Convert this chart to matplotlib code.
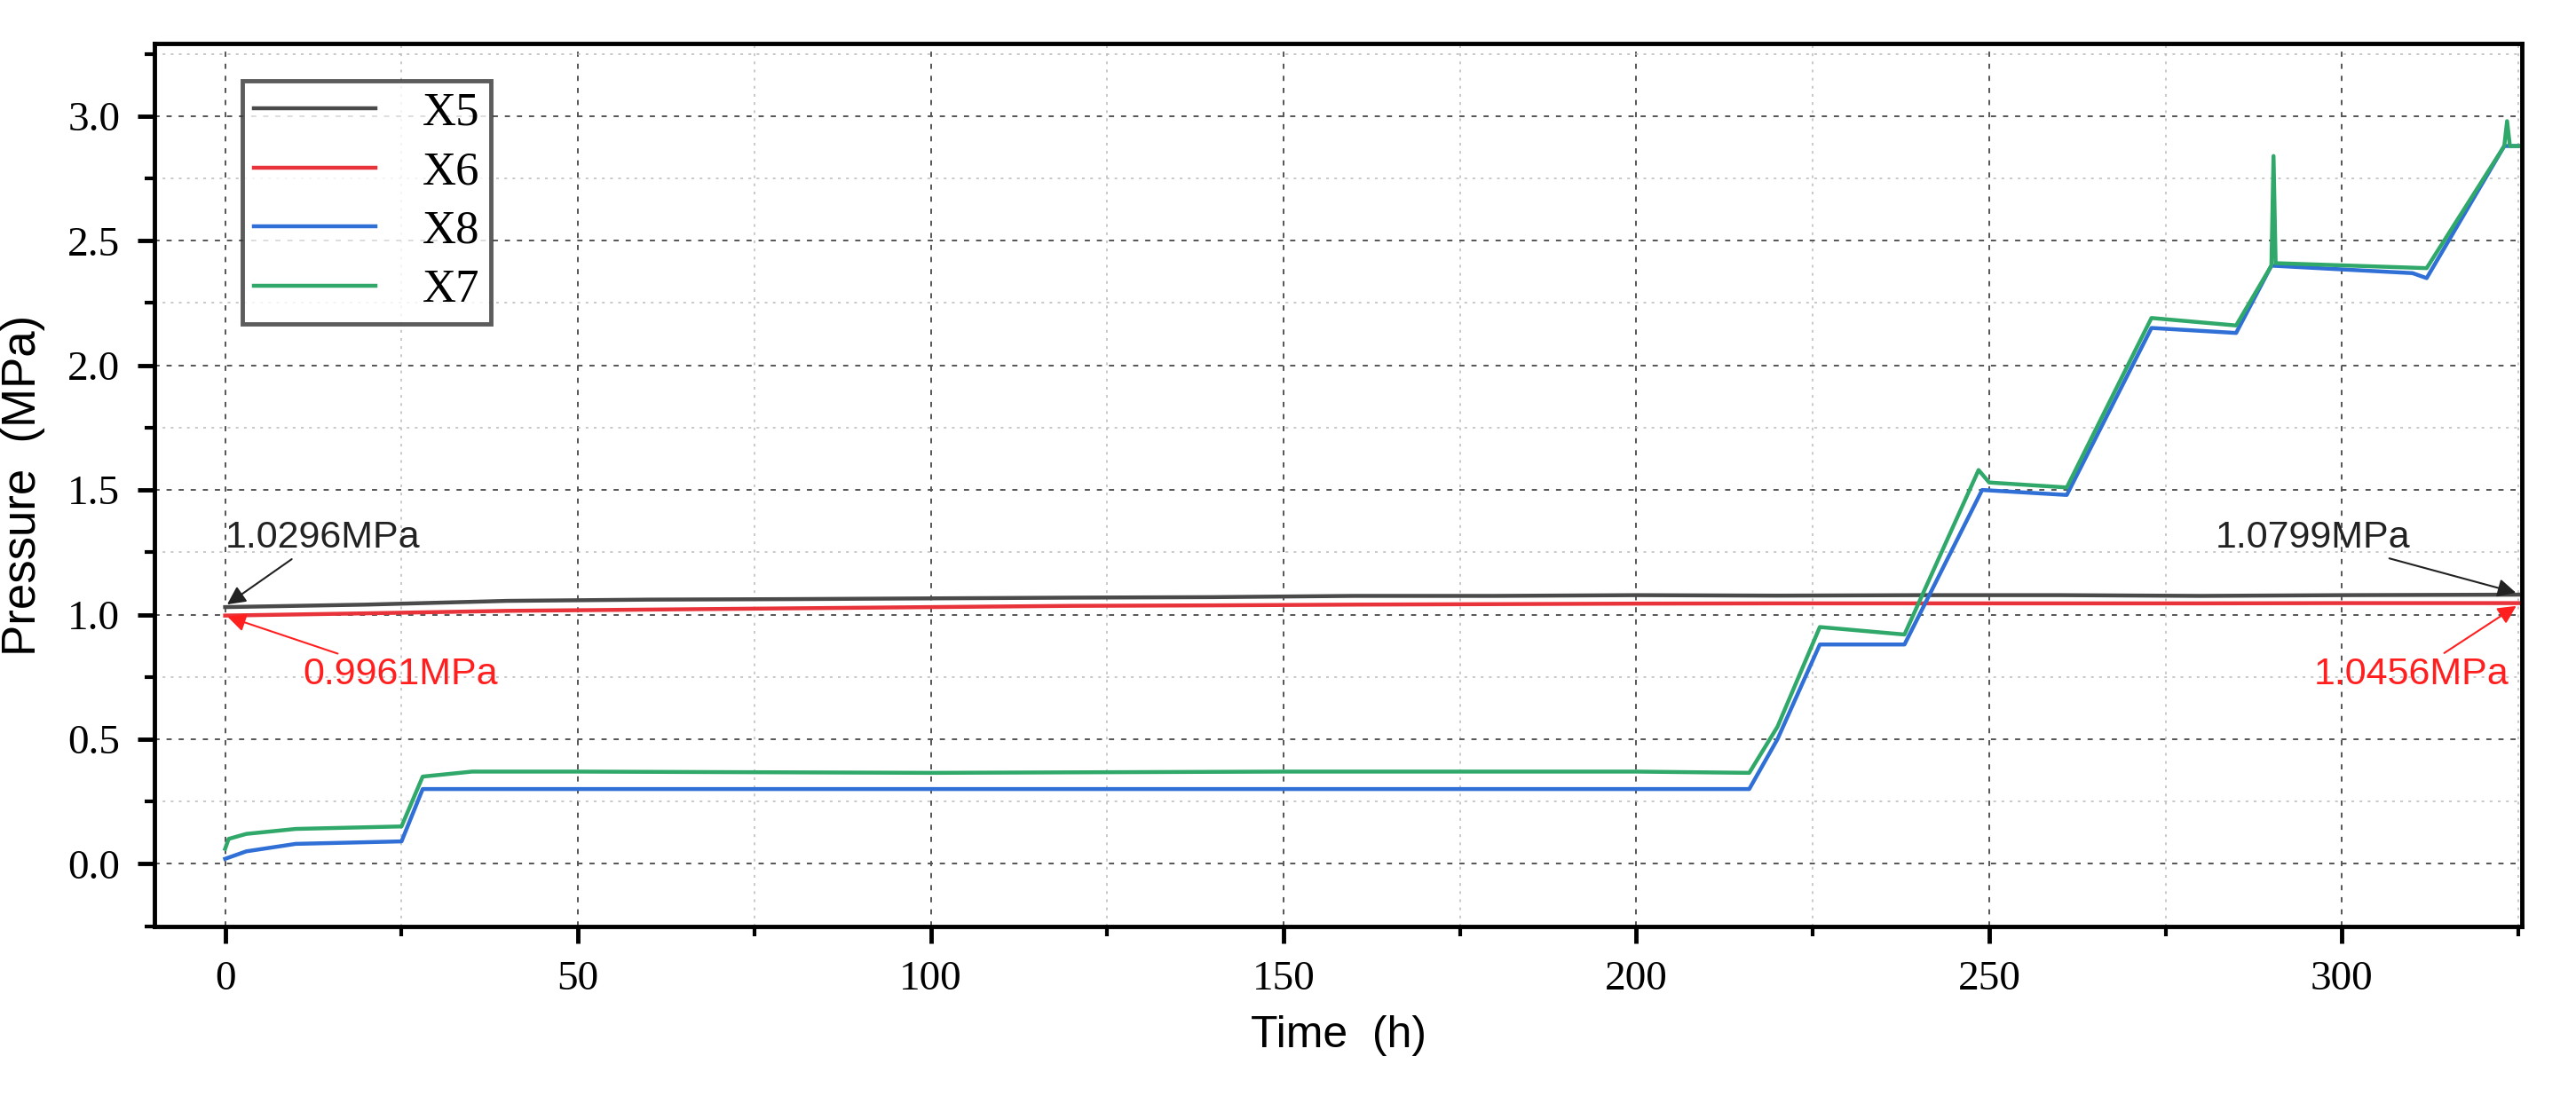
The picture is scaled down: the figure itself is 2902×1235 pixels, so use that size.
import matplotlib.pyplot as plt
from matplotlib.ticker import MultipleLocator

plt.rcParams['font.family'] = 'Liberation Serif'

# time (h) / pressure (MPa)
t_x5 = [0, 20, 40, 60, 80, 100, 120, 140, 160, 180, 200, 220, 240, 260, 280, 300, 325]
p_x5 = [1.03, 1.04, 1.055, 1.06, 1.062, 1.065, 1.068, 1.07, 1.075, 1.075, 1.078, 1.076, 1.078, 1.078, 1.075, 1.078, 1.08]
t_x6 = [0, 20, 40, 60, 80, 100, 120, 140, 160, 180, 200, 220, 240, 260, 280, 300, 325]
p_x6 = [0.996, 1.005, 1.015, 1.02, 1.025, 1.03, 1.035, 1.037, 1.04, 1.042, 1.044, 1.045, 1.045, 1.045, 1.045, 1.046, 1.046]
t_x8 = [0, 3, 10, 25, 28, 50, 100, 150, 200, 216, 220, 226, 238, 249, 261, 273, 285, 290, 310, 312, 323, 325]
p_x8 = [0.02, 0.05, 0.08, 0.09, 0.30, 0.30, 0.30, 0.30, 0.30, 0.30, 0.50, 0.88, 0.88, 1.50, 1.48, 2.15, 2.13, 2.40, 2.37, 2.35, 2.88, 2.88]
t_x7 = [0, 0.5, 3, 10, 25, 28, 35, 50, 100, 150, 200, 216, 220, 226, 238, 248.5, 250, 261, 273, 285, 290, 290.3, 290.6, 312, 323, 323.4, 323.8, 325]
p_x7 = [0.06, 0.10, 0.12, 0.14, 0.15, 0.35, 0.37, 0.37, 0.365, 0.37, 0.37, 0.365, 0.55, 0.95, 0.92, 1.58, 1.53, 1.51, 2.19, 2.16, 2.40, 2.84, 2.41, 2.39, 2.88, 2.98, 2.88, 2.88]

fig = plt.figure(figsize=(29.02, 12.35), dpi=100)
ax = fig.add_axes([0.06, 0.155, 0.919, 0.805])

ax.plot(t_x5, p_x5, color='#4a4a4a', lw=3.2, label='X5')
ax.plot(t_x6, p_x6, color='#e8333a', lw=3.2, label='X6')
ax.plot(t_x8, p_x8, color='#2f6fd6', lw=3.2, label='X8')
ax.plot(t_x7, p_x7, color='#2fa86a', lw=3.2, label='X7')

ax.set_xlim(-10, 325.5)
ax.set_ylim(-0.25, 3.29)
ax.xaxis.set_major_locator(MultipleLocator(50))
ax.xaxis.set_minor_locator(MultipleLocator(25))
ax.yaxis.set_major_locator(MultipleLocator(0.5))
ax.yaxis.set_minor_locator(MultipleLocator(0.25))
ax.grid(which='major', ls=(0, (3, 4)), color='#555555', lw=1.4)
ax.grid(which='minor', ls=(0, (2, 4)), color='#bbbbbb', lw=1.1)
ax.tick_params(which='major', length=14, width=3.5, labelsize=34, pad=14)
ax.tick_params(which='minor', length=8, width=3)
for s in ax.spines.values():
    s.set_linewidth(3.5)

ax.set_xlabel('Time  (h)', fontsize=36, family='Liberation Sans', labelpad=14)
ax.set_ylabel('Pressure  (MPa)', fontsize=38, family='Liberation Sans', labelpad=18)

leg = ax.legend(loc='upper left', bbox_to_anchor=(0.027, 0.985), prop={'family': 'Liberation Serif', 'size': 38},
                frameon=True, fancybox=False, edgecolor='#333333', handlelength=2.6, handletextpad=1.0,
                borderpad=0.25, labelspacing=0.35)
leg.get_frame().set_linewidth(3.5)

ax.annotate('1.0296MPa', xy=(0, 1.035), xytext=(0, 1.27), fontsize=31, family='Liberation Sans', color='#222222',
            arrowprops=dict(arrowstyle='-|>', color='#222222', lw=1.5))
ax.annotate('0.9961MPa', xy=(0, 0.995), xytext=(11, 0.72), fontsize=31, family='Liberation Sans', color='#ff1f1f',
            arrowprops=dict(arrowstyle='-|>', color='#ff1f1f', lw=1.5))
ax.annotate('1.0799MPa', xy=(325, 1.085), xytext=(282, 1.27), fontsize=31, family='Liberation Sans', color='#222222',
            arrowprops=dict(arrowstyle='-|>', color='#222222', lw=1.5))
ax.annotate('1.0456MPa', xy=(325, 1.04), xytext=(296, 0.72), fontsize=31, family='Liberation Sans', color='#ff1f1f',
            arrowprops=dict(arrowstyle='-|>', color='#ff1f1f', lw=1.5))

fig.savefig('out.png', dpi=100)
